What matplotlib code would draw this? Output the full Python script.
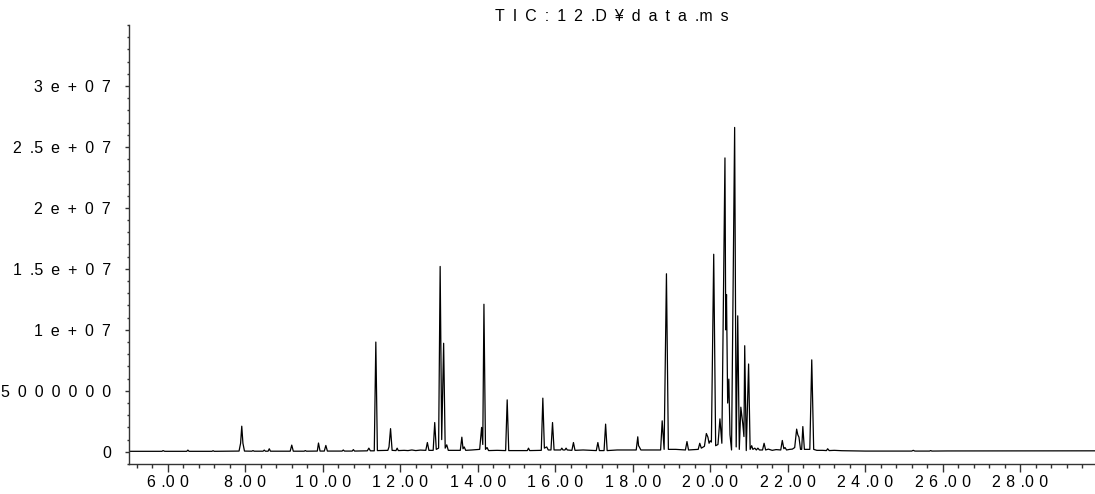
import matplotlib
matplotlib.use("Agg")
import matplotlib.pyplot as plt
from matplotlib.ticker import FixedLocator, MultipleLocator
import numpy as np

plt.rcParams['font.family'] = ['Liberation Sans', 'DejaVu Sans']
plt.rcParams['font.size'] = 11.5

# TIC trace: retention time [min], abundance [millions]
rt_min = [
    5.00, 5.85, 5.88, 5.92, 6.49, 6.52, 6.55, 7.14, 7.17, 7.20,
    7.84, 7.88, 7.91, 7.94, 7.98, 8.17, 8.20, 8.23, 8.46, 8.49,
    8.52, 8.59, 8.62, 8.65, 9.16, 9.20, 9.24, 9.52, 9.55, 9.58,
    9.86, 9.89, 9.93, 10.04, 10.08, 10.12, 10.50, 10.53, 10.56, 10.76,
    10.79, 10.82, 11.15, 11.19, 11.23, 11.33, 11.37, 11.41, 11.68, 11.71,
    11.75, 11.79, 11.89, 11.92, 11.95, 12.10, 12.20, 12.30, 12.40, 12.52,
    12.66, 12.70, 12.74, 12.85, 12.89, 12.93, 12.99, 13.03, 13.07, 13.12,
    13.16, 13.20, 13.24, 13.40, 13.55, 13.59, 13.62, 13.65, 13.69, 13.85,
    14.05, 14.10, 14.13, 14.16, 14.20, 14.24, 14.28, 14.50, 14.72, 14.76,
    14.80, 15.10, 15.28, 15.31, 15.34, 15.64, 15.68, 15.72, 15.78, 15.82,
    15.89, 15.93, 15.97, 16.14, 16.17, 16.20, 16.25, 16.28, 16.31, 16.43,
    16.47, 16.51, 16.72, 17.06, 17.10, 17.14, 17.26, 17.30, 17.34, 17.60,
    17.93, 18.09, 18.13, 18.15, 18.17, 18.21, 18.52, 18.72, 18.76, 18.81,
    18.87, 18.92, 19.11, 19.36, 19.40, 19.44, 19.69, 19.73, 19.77, 19.85,
    19.90, 19.94, 19.97, 20.00, 20.03, 20.09, 20.14, 20.20, 20.25, 20.30,
    20.38, 20.40, 20.42, 20.45, 20.48, 20.51, 20.55, 20.63, 20.67, 20.71,
    20.75, 20.79, 20.84, 20.87, 20.89, 20.93, 20.99, 21.03, 21.07, 21.10,
    21.15, 21.19, 21.23, 21.27, 21.35, 21.39, 21.43, 21.50, 21.60, 21.70,
    21.82, 21.86, 21.90, 21.93, 21.97, 22.05, 22.12, 22.18, 22.23, 22.26,
    22.29, 22.33, 22.36, 22.39, 22.43, 22.50, 22.57, 22.62, 22.67, 22.75,
    22.90, 23.00, 23.03, 23.07, 23.20, 23.40, 23.60, 24.00, 25.20, 25.24,
    25.28, 25.66, 25.69, 25.72, 26.10, 29.93,
]
abund_m = [
    0.04, 0.04, 0.10, 0.04, 0.04, 0.14, 0.04, 0.04, 0.09, 0.04,
    0.06, 0.70, 2.10, 0.70, 0.06, 0.05, 0.10, 0.05, 0.05, 0.14,
    0.05, 0.05, 0.25, 0.05, 0.05, 0.55, 0.05, 0.05, 0.10, 0.05,
    0.06, 0.72, 0.06, 0.06, 0.52, 0.06, 0.06, 0.15, 0.06, 0.06,
    0.18, 0.06, 0.08, 0.30, 0.08, 0.08, 9.00, 0.10, 0.12, 0.40,
    1.90, 0.12, 0.10, 0.30, 0.10, 0.12, 0.10, 0.15, 0.10, 0.14,
    0.12, 0.76, 0.12, 0.12, 2.40, 0.20, 0.30, 15.20, 1.00, 8.90,
    0.30, 0.57, 0.12, 0.12, 0.12, 1.20, 0.25, 0.40, 0.12, 0.15,
    0.20, 2.00, 0.60, 12.10, 0.20, 0.35, 0.10, 0.12, 0.10, 4.26,
    0.10, 0.10, 0.10, 0.30, 0.10, 0.12, 4.40, 0.30, 0.40, 0.15,
    0.15, 2.40, 0.15, 0.15, 0.30, 0.15, 0.15, 0.30, 0.15, 0.12,
    0.76, 0.12, 0.15, 0.10, 0.76, 0.10, 0.10, 2.27, 0.10, 0.15,
    0.15, 0.15, 1.23, 0.50, 0.40, 0.15, 0.15, 0.15, 2.54, 0.20,
    14.60, 0.20, 0.20, 0.15, 0.84, 0.15, 0.20, 0.70, 0.30, 0.45,
    1.50, 1.20, 0.70, 0.90, 0.80, 16.20, 0.50, 0.60, 2.70, 0.70,
    24.10, 10.00, 12.90, 4.00, 5.96, 1.40, 0.15, 26.60, 0.40, 11.15,
    0.20, 3.66, 2.30, 1.25, 8.70, 0.10, 7.20, 0.20, 0.50, 0.20,
    0.30, 0.15, 0.30, 0.15, 0.15, 0.70, 0.15, 0.22, 0.12, 0.18,
    0.15, 0.93, 0.25, 0.35, 0.15, 0.20, 0.22, 0.35, 1.86, 1.40,
    1.20, 0.20, 0.20, 2.07, 0.20, 0.20, 0.20, 7.54, 0.20, 0.12,
    0.12, 0.10, 0.25, 0.10, 0.12, 0.09, 0.08, 0.06, 0.06, 0.12,
    0.06, 0.06, 0.10, 0.06, 0.07, 0.08,
]

x_ticks = [6, 8, 10, 12, 14, 16, 18, 20, 22, 24, 26, 28]
x_tick_labels = ['6 .0 0', '8 .0 0', '1 0 .0 0', '1 2 .0 0', '1 4 .0 0', '1 6 .0 0',
                 '1 8 .0 0', '2 0 .0 0', '2 2 .0 0', '2 4 .0 0', '2 6 .0 0', '2 8 .0 0']
y_ticks = [0, 5e6, 1e7, 1.5e7, 2e7, 2.5e7, 3e7]
y_tick_labels = ['0', '5 0 0 0 0 0 0', '1 e + 0 7', '1 .5 e + 0 7', '2 e + 0 7',
                 '2 .5 e + 0 7', '3 e + 0 7']
title = 'T I C : 1 2 .D ¥ d a t a .m s'

fig = plt.figure(figsize=(10.95, 4.94), dpi=100)
ax = fig.add_axes([129 / 1095, 30 / 494, 966 / 1095, 439 / 494])

ax.plot(rt_min, np.array(abund_m) * 1e6, color='black', lw=0.9)

ax.set_xlim(5.0, 29.93)
ax.set_ylim(-1.0e6, 3.5e7)

for s in ['top', 'right']:
    ax.spines[s].set_visible(False)
for s in ['left', 'bottom']:
    ax.spines[s].set_color('#333333')
    ax.spines[s].set_linewidth(1.0)

# the instrument software prints each character on a fixed pitch
ax.xaxis.set_major_locator(FixedLocator(x_ticks))
ax.xaxis.set_minor_locator(MultipleLocator(0.4))
ax.set_xticklabels([s.replace(' ', '\u2004') for s in x_tick_labels])
ax.yaxis.set_major_locator(FixedLocator(y_ticks))
ax.yaxis.set_minor_locator(MultipleLocator(1e6))
ax.set_yticklabels([s.replace(' ', '\u2002') for s in y_tick_labels])

ax.tick_params(axis='x', which='major', direction='out', length=5.5, width=1, color='#333333', pad=2.5)
ax.tick_params(axis='x', which='minor', direction='out', length=3.1, width=1, color='#333333')
ax.tick_params(axis='y', which='major', direction='out', length=3, width=1, color='#333333', pad=10)
ax.tick_params(axis='y', which='minor', direction='out', length=1.4, width=1, color='#333333')

ax.set_title(title.replace(' ', '\u2002'), fontsize=11.5, pad=3)

fig.savefig('out.png', dpi=100)
